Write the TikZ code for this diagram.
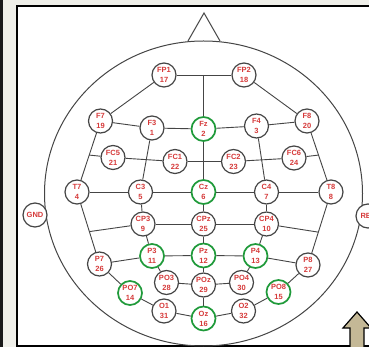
\documentclass[tikz,border=0pt]{standalone}
\usepackage{fontspec}
\setmainfont{Liberation Sans}
\usetikzlibrary{calc}
\definecolor{band}{HTML}{EFEFE9}
\definecolor{lbl}{HTML}{D63A3A}
\definecolor{ring}{HTML}{454545}
\definecolor{grn}{HTML}{1F9A3A}
\definecolor{khaki}{HTML}{C4B896}
\tikzset{
  elec/.style={circle, draw=ring, line width=1.2pt, fill=white, minimum size=24pt, inner sep=0pt,
    text=lbl, align=center, font=\fontsize{7.5}{10}\selectfont\bfseries},
  act/.style={elec, draw=grn, line width=1.7pt},
  wire/.style={draw=ring, line width=0.9pt},
}
\begin{document}
\begin{tikzpicture}[x=1pt,y=-1pt]
\useasboundingbox (0,0) rectangle (369,347);
\clip (0,0) rectangle (369,347);
% frame
\fill[band] (0,0) rectangle (369,347);
\fill[black!90] (0,0) rectangle (3,347);
\fill[white] (17,6) rectangle (369,346);
\draw[black, line width=2pt] (369,6) -- (17,6) -- (17,346) -- (369,346);
% head
\draw[ring, line width=1pt] (203.5,193.5) ellipse [x radius=159, y radius=152.5];
\draw[ring, line width=1pt] (188,41) -- (204,13) -- (220,41);
% electrodes
\node[elec] (FP1) at (164,75) {FP1\\17};
\node[elec] (FP2) at (244,75) {FP2\\18};
\node[elec] (F7) at (100.5,121) {F7\\19};
\node[elec] (F3) at (152,128) {F3\\1};
\node[act]  (Fz) at (203.5,129) {Fz\\2};
\node[elec] (F4) at (256.5,126) {F4\\3};
\node[elec] (F8) at (307,121) {F8\\20};
\node[elec] (FC5) at (113,157.5) {FC5\\21};
\node[elec] (FC1) at (175,161.5) {FC1\\22};
\node[elec] (FC2) at (233.5,161.5) {FC2\\23};
\node[elec] (FC6) at (294,158) {FC6\\24};
\node[elec] (T7) at (77,192) {T7\\4};
\node[elec] (C3) at (140.5,192) {C3\\5};
\node[act]  (Cz) at (203.5,192) {Cz\\6};
\node[elec] (C4) at (266.5,192) {C4\\7};
\node[elec] (T8) at (331,192) {T8\\8};
\node[elec] (GND) at (35,215) {GND};
\node[elec] (REF) at (368,216) {REF};
\node[elec] (CP3) at (143,224) {CP3\\9};
\node[elec] (CPz) at (203.5,224) {CPz\\25};
\node[elec] (CP4) at (266.5,224) {CP4\\10};
\node[elec] (P7) at (99.5,264) {P7\\26};
\node[act]  (P3) at (152,256) {P3\\11};
\node[act]  (Pz) at (203.5,255.5) {Pz\\12};
\node[act]  (P4) at (255.5,256) {P4\\13};
\node[elec] (P8) at (308,265) {P8\\27};
\node[elec] (PO3) at (166.5,282.5) {PO3\\28};
\node[elec] (POz) at (203.5,285) {POz\\29};
\node[elec] (PO4) at (241.5,282.5) {PO4\\30};
\node[act]  (PO7) at (130,293) {PO7\\14};
\node[act]  (PO8) at (278.5,292) {PO8\\15};
\node[elec] (O1) at (164,311) {O1\\31};
\node[act]  (Oz) at (203.5,318.5) {Oz\\16};
\node[elec] (O2) at (243.5,311) {O2\\32};
% junctions
\coordinate (mtop) at (FP1 -| Fz);
\coordinate (jl1) at ($(F7)!0.48!(T7)$);
\coordinate (jr1) at ($(F8)!0.48!(T8)$);
\coordinate (jl2) at ($(T7)!0.55!(P7)$);
\coordinate (jr2) at ($(T8)!0.55!(P8)$);
% wires
\path[wire] (FP1) -- (FP2);
\path[wire] (mtop) -- (Fz);
\path[wire] (Fz) -- (Cz);
\path[wire] (Cz) -- (CPz);
\path[wire] (CPz) -- (Pz);
\path[wire] (Pz) -- (POz);
\path[wire] (POz) -- (Oz);
\path[wire] (FP1) -- (F7);
\path[wire] (FP2) -- (F8);
\path[wire] (F7) -- (F3);
\path[wire] (F3) -- (Fz);
\path[wire] (Fz) -- (F4);
\path[wire] (F4) -- (F8);
\path[wire] (F7) -- (T7);
\path[wire] (F8) -- (T8);
\path[wire] (FC5) -- (jl1);
\path[wire] (FC6) -- (jr1);
\path[wire] (FC5) -- (FC1);
\path[wire] (FC1) -- (FC2);
\path[wire] (FC2) -- (FC6);
\path[wire] (F3) -- (C3);
\path[wire] (F4) -- (C4);
\path[wire] (T7) -- (C3);
\path[wire] (C3) -- (Cz);
\path[wire] (Cz) -- (C4);
\path[wire] (C4) -- (T8);
\path[wire] (C3) -- (CP3);
\path[wire] (C4) -- (CP4);
\path[wire] (CP3) -- (CPz);
\path[wire] (CPz) -- (CP4);
\path[wire] (CP3) -- (jl2);
\path[wire] (CP4) -- (jr2);
\path[wire] (CP3) -- (P3);
\path[wire] (CP4) -- (P4);
\path[wire] (T7) -- (P7);
\path[wire] (T8) -- (P8);
\path[wire] (P7) -- (P3);
\path[wire] (P3) -- (Pz);
\path[wire] (Pz) -- (P4);
\path[wire] (P4) -- (P8);
\path[wire] (P3) -- (PO3);
\path[wire] (P4) -- (PO4);
\path[wire] (PO3) -- (POz);
\path[wire] (POz) -- (PO4);
\path[wire] (P7) -- (PO7);
\path[wire] (PO7) -- (O1);
\path[wire] (O1) -- (Oz);
\path[wire] (Oz) -- (O2);
\path[wire] (O2) -- (PO8);
\path[wire] (PO8) -- (P8);
% arrow
\draw[black, line width=1.2pt, fill=khaki] (343,328) -- (357,312) -- (371,328) -- (364,328) -- (364,348) -- (350,348) -- (350,328) -- cycle;
\end{tikzpicture}
\end{document}
